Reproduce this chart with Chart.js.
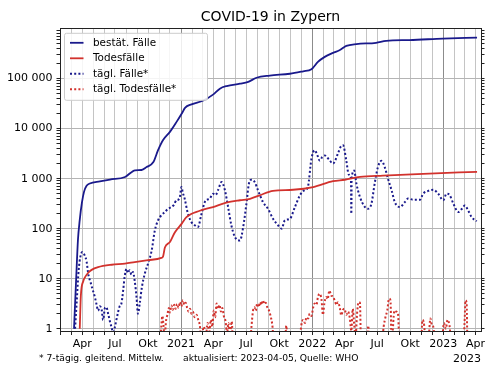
<!DOCTYPE html>
<html>
<head>
<meta charset="utf-8">
<script src="https://cdn.jsdelivr.net/npm/chart.js@4.4.0/dist/chart.umd.min.js"></script>
<style>
    html, body { margin: 0; padding: 0; background: #fff; }
</style>
</head>
<body>
<canvas id="covid-chart" width="500" height="375"></canvas>
<script>
// DATA //

const caseDates = ['2020-03-09', '2020-03-15', '2020-03-20', '2020-03-25', '2020-03-31', '2020-04-06', '2020-04-13',
    '2020-04-22', '2020-05-20', '2020-06-17', '2020-07-29', '2020-08-26', '2020-09-13', '2020-09-27', '2020-10-16',
    '2020-10-29', '2020-11-12', '2020-12-01', '2020-12-20', '2021-01-03', '2021-01-12', '2021-01-30', '2021-03-04',
    '2021-03-31', '2021-04-19', '2021-05-08', '2021-06-14', '2021-07-07', '2021-07-30', '2021-09-05', '2021-10-31',
    '2021-12-07', '2021-12-30', '2022-01-17', '2022-02-05', '2022-02-28', '2022-03-18', '2022-04-06', '2022-05-04',
    '2022-06-28', '2022-07-26', '2022-09-29', '2022-12-31', '2023-04-05'];
const caseTotals = [1, 10, 60, 150, 330, 550, 720,
    800, 880, 960, 1080, 1470, 1490, 1700, 2150,
    3700, 5900, 8600, 13800, 20000, 26000, 30600, 36500,
    47800, 63000, 71000, 79000, 86000, 104000, 115000, 125000,
    140000, 153000, 216000, 272000, 327000, 370000, 450000, 490000,
    520000, 570000, 590000, 630000, 660000];

const deathDates = ['2020-03-25', '2020-03-28', '2020-04-04', '2020-04-08', '2020-04-17', '2020-04-27', '2020-05-15',
    '2020-06-22', '2020-07-29', '2020-08-25', '2020-10-01', '2020-11-07', '2020-11-12', '2020-11-17', '2020-12-01',
    '2020-12-15', '2021-01-03', '2021-01-16', '2021-02-22', '2021-03-31', '2021-05-07', '2021-06-14', '2021-07-12',
    '2021-08-08', '2021-09-14', '2021-11-09', '2022-01-04', '2022-02-28', '2022-04-02', '2022-05-14', '2022-07-17',
    '2022-11-06', '2023-04-05'];
const deathTotals = [1, 4.5, 9, 10.5, 13, 15, 17,
    19, 20, 21.5, 23.5, 26, 28, 42, 54,
    85, 126, 170, 228, 270, 330, 370, 395,
    465, 570, 600, 680, 890, 950, 1080, 1150,
    1250, 1370];

const dailyCaseDates = ['2020-03-12', '2020-03-17', '2020-03-22', '2020-03-27', '2020-04-01', '2020-04-07', '2020-04-13',
    '2020-04-18', '2020-04-24', '2020-04-30', '2020-05-06', '2020-05-11', '2020-05-15', '2020-05-20', '2020-05-25',
    '2020-05-29', '2020-06-03', '2020-06-07', '2020-06-12', '2020-06-17', '2020-06-21', '2020-06-26', '2020-07-01',
    '2020-07-05', '2020-07-10', '2020-07-14', '2020-07-19', '2020-07-24', '2020-07-28', '2020-08-02', '2020-08-06',
    '2020-08-11', '2020-08-16', '2020-08-20', '2020-08-25', '2020-08-30', '2020-09-03', '2020-09-08', '2020-09-14',
    '2020-09-22', '2020-10-01', '2020-10-11', '2020-10-20', '2020-10-29', '2020-11-07', '2020-11-17', '2020-11-26',
    '2020-12-05', '2020-12-12', '2020-12-19', '2020-12-28', '2021-01-02', '2021-01-06', '2021-01-11', '2021-01-20',
    '2021-01-30', '2021-02-08', '2021-02-17', '2021-02-26', '2021-03-08', '2021-03-15', '2021-03-22', '2021-03-31',
    '2021-04-07', '2021-04-14', '2021-04-24', '2021-05-03', '2021-05-12', '2021-05-21', '2021-05-31', '2021-06-14',
    '2021-06-23', '2021-07-02', '2021-07-09', '2021-07-16', '2021-07-25', '2021-08-03', '2021-08-17', '2021-08-31',
    '2021-09-14', '2021-09-28', '2021-10-08', '2021-10-17', '2021-10-31', '2021-11-14', '2021-11-28', '2021-12-11',
    '2021-12-20', '2021-12-30', '2022-01-08', '2022-01-15', '2022-01-22', '2022-01-29', '2022-02-05', '2022-02-17',
    '2022-02-28', '2022-03-14', '2022-03-21', '2022-03-28', '2022-04-06', '2022-04-13', '2022-04-19', '2022-04-20',
    '2022-04-21', '2022-04-28', '2022-05-04', '2022-05-14', '2022-05-28', '2022-06-06', '2022-06-15', '2022-06-24',
    '2022-07-03', '2022-07-13', '2022-07-22', '2022-07-31', '2022-08-10', '2022-08-19', '2022-09-02', '2022-09-16',
    '2022-09-25', '2022-10-09', '2022-10-28', '2022-11-06', '2022-11-20', '2022-12-04', '2022-12-18', '2023-01-01',
    '2023-01-10', '2023-01-19', '2023-01-29', '2023-02-12', '2023-02-22', '2023-03-02', '2023-03-11', '2023-03-21',
    '2023-04-04'];
const dailyCases = [1, 4, 15, 28, 34, 30, 22,
    12, 8.5, 6, 4.3, 3, 2.3, 2.8, 2.4,
    1.5, 2.6, 2.7, 2, 1.4, 1.1, 0.85, 1.1,
    1.5, 2.2, 2.8, 3.2, 6, 11, 15.8, 13,
    14.7, 12, 13.6, 9, 4.3, 2, 3.2, 6.8,
    12.6, 20, 36, 92, 147, 185, 215, 250,
    270, 300, 370, 400, 680, 520, 400, 200,
    135, 117, 108, 185, 340, 380, 400, 500,
    470, 590, 860, 590, 270, 117, 68, 58,
    108, 316, 800, 950, 860, 590, 340, 250,
    158, 117, 100, 147, 158, 270, 465, 590,
    680, 2500, 3700, 3000, 2300, 2700, 2900, 2400,
    2000, 3200, 4300, 4650, 2300, 1200, 1000, 200,
    1000, 1450, 800, 430, 270, 250, 316, 800,
    1700, 2270, 1700, 1000, 590, 340, 270, 340,
    400, 380, 380, 500, 570, 600, 500, 370,
    500, 465, 316, 215, 250, 290, 232, 170,
    140];

const dailyDeathDates = ['2020-11-03', '2020-11-07', '2020-11-10', '2020-11-13', '2020-11-16', '2020-11-20', '2020-11-24',
    '2020-11-28', '2020-12-01', '2020-12-05', '2020-12-09', '2020-12-13', '2020-12-17', '2020-12-21', '2020-12-25',
    '2020-12-29', '2021-01-02', '2021-01-06', '2021-01-10', '2021-01-14', '2021-01-18', '2021-01-22', '2021-01-26',
    '2021-01-30', '2021-02-03', '2021-02-08', '2021-02-13', '2021-02-18', '2021-02-22', '2021-02-26', '2021-03-06',
    '2021-03-10', '2021-03-16', '2021-03-20', '2021-03-25', '2021-03-29', '2021-04-02', '2021-04-06', '2021-04-10',
    '2021-04-14', '2021-04-18', '2021-04-22', '2021-04-26', '2021-04-30', '2021-05-05', '2021-05-09', '2021-05-13',
    '2021-05-17', '2021-05-22', '2021-05-26', '2021-07-12', '2021-07-16', '2021-07-20', '2021-07-24', '2021-07-28',
    '2021-08-01', '2021-08-05', '2021-08-09', '2021-08-13', '2021-08-17', '2021-08-21', '2021-08-25', '2021-08-29',
    '2021-09-03', '2021-09-08', '2021-09-12', '2021-09-16', '2021-10-17', '2021-10-21', '2021-10-25', '2021-11-26',
    '2021-12-02', '2021-12-07', '2021-12-12', '2021-12-16', '2021-12-21', '2021-12-25', '2021-12-30', '2022-01-04',
    '2022-01-08', '2022-01-13', '2022-01-17', '2022-01-22', '2022-01-27', '2022-01-31', '2022-02-04', '2022-02-09',
    '2022-02-13', '2022-02-18', '2022-02-23', '2022-02-28', '2022-03-05', '2022-03-10', '2022-03-14', '2022-03-19',
    '2022-03-23', '2022-03-28', '2022-04-01', '2022-04-06', '2022-04-11', '2022-04-16', '2022-04-20', '2022-04-24',
    '2022-04-28', '2022-05-02', '2022-05-06', '2022-05-10', '2022-05-14', '2022-05-17', '2022-06-03', '2022-06-06',
    '2022-06-10', '2022-07-14', '2022-07-19', '2022-07-24', '2022-07-29', '2022-08-03', '2022-08-07', '2022-08-10',
    '2022-08-18', '2022-08-23', '2022-08-28', '2022-09-01', '2022-10-31', '2022-11-04', '2022-11-08', '2022-11-12',
    '2022-11-21', '2022-11-26', '2022-11-30', '2022-12-04', '2022-12-09', '2022-12-28', '2023-01-03', '2023-01-08',
    '2023-01-13', '2023-01-18', '2023-01-23', '2023-02-25', '2023-03-01', '2023-03-04', '2023-03-07', '2023-03-09'];
const dailyDeaths = [0.4, 1.1, 1.8, 1.2, 0.6, 1.4, 1.9,
    2.6, 2.1, 2.9, 2.4, 3.0, 2.5, 3.1, 2.6,
    3.4, 2.8, 3.7, 3.0, 3.3, 2.6, 2.2, 2.5,
    2.0, 2.2, 1.7, 1.9, 1.5, 1.2, 0.7, 1.1,
    0.6, 1.3, 0.8, 1.5, 1.1, 2.3, 1.7, 3.2,
    2.5, 3.0, 2.2, 2.6, 1.8, 1.4, 0.8, 1.3,
    0.7, 1.4, 0.5, 0.5, 1.1, 2.2, 2.7, 2.3,
    3.2, 2.7, 3.4, 3.0, 3.7, 3.1, 3.3, 2.7,
    2.3, 1.7, 1.2, 0.6, 0.5, 1.15, 0.5, 0.5,
    1.2, 1.5, 1.3, 1.7, 1.6, 2.0, 1.8, 2.7,
    3.2, 3.0, 4.3, 5.0, 3.8, 1.9, 3.2, 4.3,
    3.9, 5.8, 4.6, 4.4, 3.6, 3.0, 3.4, 2.6,
    1.85, 2.4, 2.5, 1.9, 2.2, 1.6, 0.9, 2.5,
    1.2, 0.7, 2.0, 3.4, 3.3, 0.5, 0.5, 1.15,
    0.5, 0.5, 1.1, 1.7, 2.3, 4.0, 3.7, 0.5,
    2.3, 2.2, 2.0, 0.5, 0.5, 1.5, 1.3, 0.7,
    0.7, 1.6, 1.2, 1.1, 0.6, 0.6, 1.3, 1.0,
    1.5, 1.2, 0.6, 0.5, 1.2, 3.7, 3.2, 0.5];

const seriesLabels = ['bestät. Fälle', 'Todesfälle', 'tägl. Fälle*', 'tägl. Todesfälle*'];
const monthLabels = ['', '', '', 'Apr', '', '', 'Jul', '', '', 'Okt', '', ''];
const yMajorTicks = [1, 10, 100, 1000, 10000, 100000];
const yMajorLabels = ['1', '10', '100', '1 000', '10 000', '100 000'];
const chartTitle = 'COVID-19 in Zypern';
const noteLeft = '* 7-tägig. gleitend. Mittelw.';
const noteRight = 'aktualisiert: 2023-04-05, Quelle: WHO';
const offsetLabel = '2023';

// HELPERS //

const DAY_MS = 86400000;
function dayNum(s) {
    const [y, m, d] = s.split('-').map(Number);
    return (Date.UTC(y, m - 1, d) - Date.UTC(2020, 0, 1)) / DAY_MS;
}
function toPoints(dates, values) {
    return dates.map((d, i) => ({ x: dayNum(d), y: values[i] }));
}

const xMin = dayNum('2020-01-30');
const xMax = dayNum('2023-04-16');
const yMin = 0.9;
const yMax = 990000;

// monthly ticks, labelled every quarter (January gets the year)
const xTickDays = [];
const xTickLabels = [];
for (let y = 2020; y <= 2023; y++) {
    for (let m = 0; m < 12; m++) {
        const v = (Date.UTC(y, m, 1) - Date.UTC(2020, 0, 1)) / DAY_MS;
        if (v < xMin || v > xMax) continue;
        xTickDays.push(v);
        xTickLabels.push(m === 0 ? String(y) : monthLabels[m]);
    }
}
const isYearStart = v => xTickLabels[xTickDays.indexOf(v)] && /^\d{4}$/.test(xTickLabels[xTickDays.indexOf(v)]);

const yTickValues = [];
for (let e = 0; e <= 5; e++) {
    for (let k = 1; k <= 9; k++) {
        const v = k * Math.pow(10, e);
        if (v >= yMin && v <= yMax) yTickValues.push(v);
    }
}
const isDecade = v => yMajorTicks.includes(v);

// PLUGINS //

const legendBox = {
    id: 'legendBox',
    afterDatasetsDraw(chart) {
        const { ctx, chartArea } = chart;
        const x0 = chartArea.left + 4.5;
        const y0 = chartArea.top + 4.5;
        ctx.save();
        ctx.fillStyle = 'rgba(255,255,255,0.85)';
        ctx.strokeStyle = '#cccccc';
        ctx.lineWidth = 1;
        ctx.beginPath();
        if (ctx.roundRect) ctx.roundRect(x0, y0, 143, 67, 2); else ctx.rect(x0, y0, 143, 67);
        ctx.fill();
        ctx.stroke();
        ctx.font = '10.4px "DejaVu Sans"';
        ctx.textBaseline = 'middle';
        chart.data.datasets.forEach((ds, i) => {
            const y = y0 + 9.5 + i * 15.5;
            ctx.strokeStyle = ds.borderColor;
            ctx.lineWidth = ds.borderWidth;
            ctx.setLineDash(ds.borderDash || []);
            ctx.beginPath();
            ctx.moveTo(x0 + 5.5, y);
            ctx.lineTo(x0 + 19, y);
            ctx.stroke();
            ctx.setLineDash([]);
            ctx.fillStyle = '#000';
            ctx.fillText(ds.label, x0 + 28.5, y);
        });
        ctx.restore();
    }
};

const footNotes = {
    id: 'footNotes',
    afterDraw(chart) {
        const ctx = chart.ctx;
        ctx.save();
        ctx.fillStyle = '#000';
        ctx.textBaseline = 'alphabetic';
        ctx.font = '9.2px "DejaVu Sans"';
        ctx.textAlign = 'left';
        ctx.fillText(noteLeft, 39, 361.3);
        ctx.fillText(noteRight, 183, 361.3);
        ctx.font = '11px "DejaVu Sans"';
        ctx.textAlign = 'right';
        ctx.fillText(offsetLabel, chart.chartArea.right, 361.5);
        ctx.restore();
    }
};

// CHART //

Chart.defaults.font.family = '"DejaVu Sans"';
Chart.defaults.color = '#000';

const blue = '#1a1a8c';
const red = '#d2322d';

const covidChart = new Chart(document.getElementById('covid-chart'), {
    type: 'line',
    data: {
        datasets: [{
            label: seriesLabels[0],
            data: toPoints(caseDates, caseTotals),
            borderColor: blue,
            borderWidth: 1.8,
            cubicInterpolationMode: 'monotone'
        }, {
            label: seriesLabels[1],
            data: toPoints(deathDates, deathTotals),
            borderColor: red,
            borderWidth: 1.8,
            cubicInterpolationMode: 'monotone'
        }, {
            label: seriesLabels[2],
            data: toPoints(dailyCaseDates, dailyCases),
            borderColor: blue,
            borderWidth: 2,
            borderDash: [2, 2.2],
            cubicInterpolationMode: 'monotone'
        }, {
            label: seriesLabels[3],
            data: toPoints(dailyDeathDates, dailyDeaths),
            borderColor: red,
            borderWidth: 2,
            borderDash: [2, 2.2],
            cubicInterpolationMode: 'monotone'
        }]
    },
    options: {
        responsive: false,
        animation: false,
        clip: 0,
        elements: { point: { radius: 0 } },
        layout: { padding: { left: 0, right: 0, top: 0, bottom: 22 } },
        scales: {
            x: {
                type: 'linear',
                min: xMin,
                max: xMax,
                afterBuildTicks: s => { s.ticks = xTickDays.map(v => ({ value: v })); },
                afterFit: s => { s.height = 22; },
                ticks: {
                    autoSkip: false,
                    maxRotation: 0,
                    minRotation: 0,
                    padding: 3,
                    font: { size: 11 },
                    callback: v => xTickLabels[xTickDays.indexOf(v)] || ''
                },
                grid: {
                    color: c => (c.tick && isYearStart(c.tick.value)) ? '#8c8c8c' : '#c4c4c4',
                    tickColor: '#222',
                    tickLength: 4
                },
                border: { color: '#222', width: 1 }
            },
            x2: {
                type: 'linear',
                position: 'top',
                min: xMin,
                max: xMax,
                afterFit: s => { s.height = 0; },
                ticks: { display: false },
                grid: { display: false },
                border: { color: '#222', width: 1 }
            },
            y: {
                type: 'logarithmic',
                position: 'left',
                min: yMin,
                max: yMax,
                afterBuildTicks: s => { s.ticks = yTickValues.map(v => ({ value: v })); },
                afterFit: s => { s.width = 60; },
                ticks: {
                    autoSkip: false,
                    padding: 4,
                    font: { size: 11 },
                    callback: v => isDecade(v) ? yMajorLabels[yMajorTicks.indexOf(v)] : ''
                },
                grid: {
                    color: c => (c.tick && isDecade(c.tick.value)) ? '#b4b4b4' : 'rgba(0,0,0,0)',
                    tickColor: '#222',
                    tickLength: 3.5
                },
                border: { color: '#222', width: 1 }
            },
            y2: {
                type: 'logarithmic',
                position: 'right',
                min: yMin,
                max: yMax,
                afterBuildTicks: s => { s.ticks = yTickValues.map(v => ({ value: v })); },
                afterFit: s => { s.width = 19; },
                ticks: { autoSkip: false, callback: () => '' },
                grid: { drawOnChartArea: false, tickColor: '#222', tickLength: 3.5 },
                border: { color: '#222', width: 1 }
            }
        },
        plugins: {
            legend: { display: false },
            tooltip: { enabled: false },
            title: {
                display: true,
                text: chartTitle,
                fullSize: false,
                color: '#000',
                font: { size: 14, weight: 'normal' },
                padding: { top: 8.5, bottom: 3.5 }
            }
        }
    },
    plugins: [legendBox, footNotes]
});
</script>
</body>
</html>
